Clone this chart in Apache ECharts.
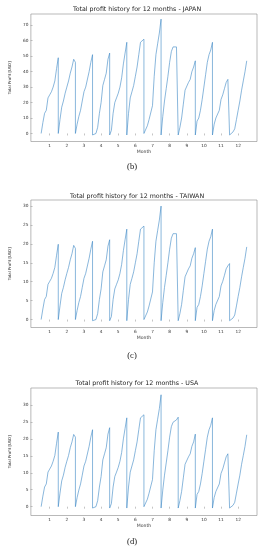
<!DOCTYPE html>
<html><head><meta charset="utf-8">
<script src="https://cdn.jsdelivr.net/npm/echarts@6/dist/echarts.min.js"></script>
<style>html,body{margin:0;padding:0;background:#fff}#c{width:264px;height:550px}</style>
</head><body><div id="c"></div>
<script>
// Month tick labels
const months = [1,2,3,4,5,6,7,8,9,10,11,12];
// Cumulative profit inside each month, 11 samples from month-0.5 to month+0.5
const japan = [
  [0, 7, 13, 15, 23, 25, 27, 30, 34, 42, 49],
  [0, 9, 17, 21, 26, 30, 34, 39, 43, 48, 46],
  [0, 6, 11, 15, 21, 27, 30, 31, 40, 46, 51],
  [-1, -1, 0, 4, 13, 20, 31, 35, 39, 48, 52],
  [-1, 2, 13, 20, 23, 26, 30, 36, 45, 52, 59],
  [-1, 13, 23, 27, 31, 37, 43, 51, 59, 60, 61],
  [0, 0, 5, 9, 9, 18, 37, 51, 58, 65, 74],
  [-1, 11, 21, 29, 37, 46, 53, 56, 57, 56, 55],
  [-1, 4, 10, 19, 28, 29, 33, 35, 40, 43, 47],
  [-1, 8, 10, 15, 22, 30, 38, 46, 51, 54, 59],
  [-1, 6, 10, 11, 15, 22, 25, 29, 33, 35, 36],
  [-1, 0, 1, 3, 9, 15, 21, 28, 34, 40, 47]
];
const taiwan = [
  [0, 2.8, 5.3, 6.1, 9.3, 10.1, 10.9, 12.2, 13.8, 17.0, 19.9],
  [0, 3.6, 6.9, 8.5, 10.5, 12.2, 13.8, 15.8, 17.4, 19.6, 18.8],
  [0, 2.4, 4.5, 6.1, 8.5, 10.9, 12.2, 12.6, 16.2, 18.6, 20.7],
  [-0.3, -0.3, 0, 1.6, 5.3, 8.1, 12.6, 14.2, 15.8, 19.4, 21.1],
  [-0.3, 0.8, 5.3, 8.1, 9.3, 10.5, 12.2, 14.6, 18.2, 21.1, 23.9],
  [-0.3, 5.3, 9.3, 10.9, 12.6, 15.0, 17.4, 20.7, 23.9, 24.3, 24.7],
  [0, 0, 2.0, 3.6, 3.6, 7.3, 15.0, 20.7, 23.5, 26.3, 30.0],
  [-0.3, 4.5, 8.5, 11.7, 15.0, 18.6, 21.5, 22.7, 23.0, 22.7, 22.3],
  [-0.3, 1.6, 4.0, 7.7, 11.3, 11.7, 13.4, 14.2, 16.2, 17.4, 19.0],
  [-0.3, 3.2, 4.0, 6.1, 8.9, 12.2, 15.4, 18.6, 20.7, 21.9, 23.9],
  [-0.3, 2.4, 4.0, 4.5, 6.1, 8.9, 10.1, 11.7, 13.4, 14.2, 14.8],
  [-0.3, 0, 0.4, 1.2, 3.6, 6.1, 8.5, 11.3, 13.8, 16.2, 19.2]
];
const usa = [
  [0, 3.1, 5.8, 6.7, 10.2, 11.1, 12.0, 13.4, 15.1, 18.7, 22.0],
  [0, 4.0, 7.6, 9.3, 11.6, 13.4, 15.1, 17.4, 19.1, 21.3, 20.5],
  [0, 2.7, 4.9, 6.7, 9.3, 12.0, 13.4, 13.8, 17.8, 20.5, 22.7],
  [-0.4, -0.4, 0, 1.8, 5.8, 8.9, 13.8, 15.6, 17.4, 21.4, 23.3],
  [-0.4, 0.9, 5.8, 8.9, 10.2, 11.6, 13.4, 16.0, 20.0, 23.1, 26.2],
  [-0.4, 5.8, 10.2, 12.0, 13.8, 16.5, 19.1, 22.7, 26.2, 26.7, 27.1],
  [0, 0, 2.2, 4.0, 4.0, 8.0, 16.5, 22.7, 25.8, 28.9, 33.0],
  [-0.4, 4.9, 9.3, 12.9, 16.5, 20.5, 23.6, 24.9, 25.4, 25.6, 26.4],
  [-0.4, 1.8, 4.5, 8.5, 12.5, 12.9, 14.7, 15.6, 17.8, 19.1, 21.4],
  [-0.4, 3.6, 4.5, 6.7, 9.8, 13.4, 16.9, 20.5, 22.7, 24.0, 26.2],
  [-0.4, 2.7, 4.5, 4.9, 6.7, 9.8, 11.1, 12.9, 14.7, 15.6, 16.0],
  [-0.4, 0, 0.4, 1.3, 4.0, 6.7, 9.3, 12.5, 15.1, 17.8, 21.2]
];
const countries = ['JAPAN', 'TAIWAN', 'USA'];
const captions = ['(b)', '(c)', '(d)'];
const yTicksJapan = [0,10,20,30,40,50,60,70];
const yTicksSmall = [0,5,10,15,20,25,30];

function toPoints(arr) {
  const pts = [];
  arr.forEach((vals, m) => {
    vals.forEach((v, k) => pts.push([months[m] - 0.5 + k / (vals.length - 1), v]));
  });
  return pts;
}

const gridTops = [14, 200, 388];
const titleTops = [6.5, 193.5, 380.5];
const capY = [167, 356, 542];
const yRanges = [[-5.2, 77.3], [-2.1, 31.6], [-2.6, 35]];
const yTicks = [yTicksJapan, yTicksSmall, yTicksSmall];
const datas = [japan, taiwan, usa];
const axisCol = '#8a8a8a';
const font = 'DejaVu Sans';

const option = {
  animation: false,
  backgroundColor: '#fff',
  title: countries.map((c, i) => ({
    text: 'Total profit history for 12 months - ' + c,
    left: 137, top: titleTops[i], textAlign: 'center', padding: 0,
    textStyle: {fontFamily: font, fontSize: 6.3, fontWeight: 'normal', color: '#222'}
  })),
  graphic: captions.map((t, i) => ({
    type: 'text', x: 132, y: capY[i],
    style: {text: t, fontFamily: 'Liberation Serif', fontSize: 8.5, fill: '#111', align: 'center', verticalAlign: 'middle'}
  })),
  grid: gridTops.map(t => ({left: 17, top: t, width: 240, height: 127.5, show: true, borderColor: axisCol, borderWidth: 0.6, backgroundColor: 'transparent'})),
  xAxis: gridTops.map((t, i) => ({
    type: 'value', gridIndex: i, min: -0.1, max: 13.1,
    name: 'Month', nameLocation: 'middle', nameGap: 6,
    nameTextStyle: {fontFamily: font, fontSize: 4.6, color: '#333'},
    axisLine: {show: false},
    splitLine: {show: false},
    axisTick: {show: true, length: 2, lineStyle: {color: axisCol, width: 0.5}, customValues: months},
    axisLabel: {fontFamily: font, fontSize: 4.3, color: '#333', margin: 2.5, customValues: months}
  })),
  yAxis: gridTops.map((t, i) => ({
    type: 'value', gridIndex: i, min: yRanges[i][0], max: yRanges[i][1],
    name: 'Total Profit [USD]', nameLocation: 'middle', nameGap: 10.5, nameRotate: 90,
    nameTextStyle: {fontFamily: font, fontSize: 3.9, color: '#333'},
    axisLine: {show: false},
    splitLine: {show: false},
    axisTick: {show: true, length: 2, lineStyle: {color: axisCol, width: 0.5}, customValues: yTicks[i]},
    axisLabel: {fontFamily: font, fontSize: 4.3, color: '#333', margin: 2.5, customValues: yTicks[i]}
  })),
  series: datas.map((d, i) => ({
    type: 'line', xAxisIndex: i, yAxisIndex: i, data: toPoints(d),
    showSymbol: false, symbol: 'none',
    lineStyle: {color: '#3a86c4', width: 0.6}
  }))
};
echarts.init(document.getElementById('c'), null, {renderer: 'canvas'}).setOption(option);
</script>
</body></html>
